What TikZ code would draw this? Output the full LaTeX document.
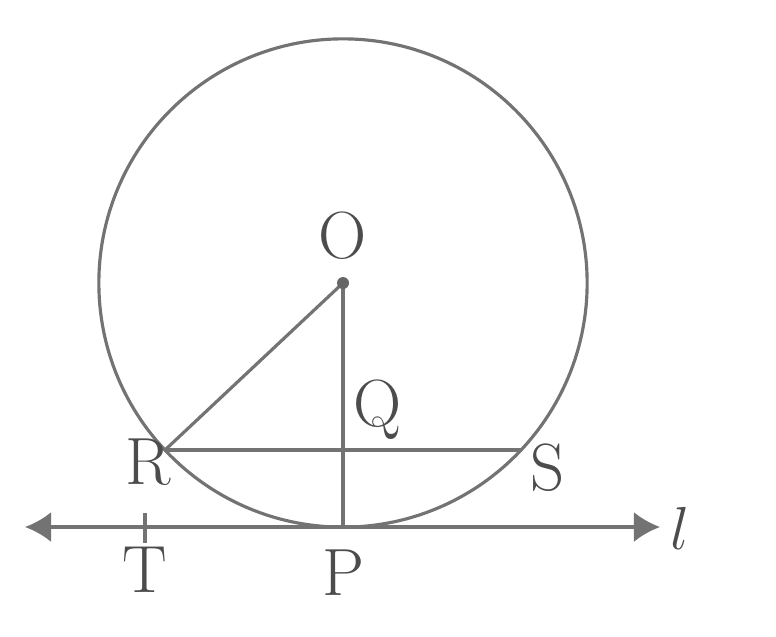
\documentclass[tikz,border=0pt]{standalone}
\usepackage{tikz}
\usetikzlibrary{positioning, arrows.meta, calc}

\begin{document}
\begin{tikzpicture}[x=0.01cm, y=-0.01cm,
    font=\fontsize{19}{22}\selectfont,
    geo/.style={draw=black!55, line width=0.9pt},
    lbl/.style={text=black!70, inner sep=0pt},
    ar/.style={{Latex[length=2.6mm, width=3mm]}-{Latex[length=2.6mm, width=3mm]}}]
  \useasboundingbox (0,0) rectangle (776,636);
  % points
  \coordinate (O) at (343,283);
  \coordinate (P) at (343,527);
  \coordinate (R) at (165,450);
  \coordinate (S) at (521,450);
  \coordinate (Q) at (343,450);
  \coordinate (T) at (145,527);
  \coordinate (lineL) at (25,527);
  \coordinate (lineR) at (660,527);
  % circle and segments
  \draw[geo] (O) circle[radius=2.44cm];
  \draw[geo] (O) -- (P);
  \draw[geo] (O) -- (R);
  \draw[geo] (R) -- (S);
  \draw[geo, ar, black!55] (lineL) -- (lineR);
  \draw[geo] ($(T)+(0,-14)$) -- ($(T)+(0,16)$);
  \fill[black!60] (O) circle[radius=0.06cm];
  % labels
  \node[lbl] (labO) at (343,236) {O};
  \node[lbl] (labQ) at (378,410) {Q};
  \node[lbl] (labR) at (148,462) {R};
  \node[lbl] (labS) at (548,468) {S};
  \node[lbl] (labT) at (145,570) {T};
  \node[lbl] (labP) at (343,573) {P};
  \node[lbl] (labl) at (680,528) {$l$};
\end{tikzpicture}
\end{document}
